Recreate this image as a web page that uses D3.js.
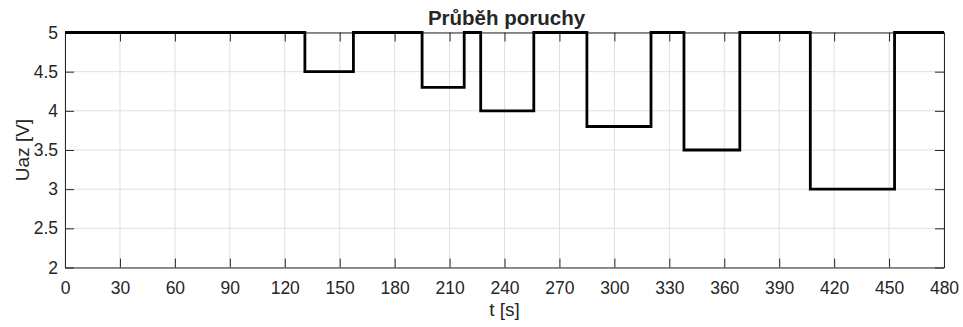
<!DOCTYPE html>
<html>
<head>
<meta charset="utf-8">
<script src="https://cdn.jsdelivr.net/npm/d3@7"></script>
<style>
  body { margin: 0; background: #fff; }
  text { font-family: "Liberation Sans", Arial, Helvetica, sans-serif; fill: #262626; }
  .grid line { stroke: #dfdfdf; stroke-width: 1; }
  .axis path, .axis line { stroke: #262626; }
</style>
</head>
<body>
<div id="chart"></div>
<script>
// step times [s] and voltage levels held from each time onwards
var times  = [0, 131, 157.5, 195, 218, 227, 256, 285, 320, 338, 368.5, 407, 453, 480];
var levels = [5, 4.5, 5,     4.3, 5,   4.0, 5,   3.8, 5,   3.5, 5,     3.0, 5,   5];
var xTicks = [0, 30, 60, 90, 120, 150, 180, 210, 240, 270, 300, 330, 360, 390, 420, 450, 480];
var yTicks = [2, 2.5, 3, 3.5, 4, 4.5, 5];

var W = 963, H = 327;
var margin = {top: 32.5, right: 19, bottom: 59.5, left: 65};
var width = W - margin.left - margin.right,
    height = H - margin.top - margin.bottom;

var svg = d3.select("#chart").append("svg")
    .attr("width", W)
    .attr("height", H);

var plot = svg.append("g")
    .attr("transform", "translate(" + margin.left + "," + margin.top + ")");

var x = d3.scaleLinear().domain([0, 480]).range([0, width]);
var y = d3.scaleLinear().domain([2, 5]).range([height, 0]);

// grid
var grid = plot.append("g").attr("class", "grid");
grid.selectAll(".gx").data(xTicks).enter().append("line")
    .attr("x1", d => x(d)).attr("x2", d => x(d))
    .attr("y1", 0).attr("y2", height);
grid.selectAll(".gy").data(yTicks).enter().append("line")
    .attr("x1", 0).attr("x2", width)
    .attr("y1", d => y(d)).attr("y2", d => y(d));

// axes, ticks pointing inwards like matlab
var tickLen = 9;
var xAxis = plot.append("g").attr("class", "axis")
    .attr("transform", "translate(0," + height + ")")
    .call(d3.axisBottom(x).tickValues(xTicks).tickSizeInner(-tickLen).tickSizeOuter(0).tickPadding(14));
var xTop = plot.append("g").attr("class", "axis")
    .call(d3.axisTop(x).tickValues(xTicks).tickSizeInner(-tickLen).tickSizeOuter(0).tickFormat(""));
var yAxis = plot.append("g").attr("class", "axis")
    .call(d3.axisLeft(y).tickValues(yTicks).tickSizeInner(-tickLen).tickSizeOuter(0).tickPadding(7).tickFormat(d3.format("")));
var yRight = plot.append("g").attr("class", "axis")
    .attr("transform", "translate(" + width + ",0)")
    .call(d3.axisRight(y).tickValues(yTicks).tickSizeInner(-tickLen).tickSizeOuter(0).tickFormat(""));

svg.selectAll(".axis text")
    .style("font-size", "17.5px")
    .style("font-family", '"Liberation Sans", Arial, sans-serif')
    .attr("fill", "#262626");
xAxis.selectAll(".tick text").attr("dy", "0.71em");

// the signal
var pts = times.map((t, i) => [t, levels[i]]);
var line = d3.line()
    .x(d => x(d[0]))
    .y(d => y(d[1]))
    .curve(d3.curveStepAfter);

plot.append("path")
    .datum(pts)
    .attr("d", line)
    .attr("fill", "none")
    .attr("stroke", "#000")
    .attr("stroke-width", 2.8);

// title and labels
svg.append("text")
    .text("Průběh poruchy")
    .attr("x", margin.left + width / 2 + 2)
    .attr("y", 25)
    .attr("text-anchor", "middle")
    .style("font-size", "20.5px")
    .style("font-weight", "bold")
    .attr("fill", "#000");

svg.append("text")
    .text("t [s]")
    .attr("x", margin.left + width / 2)
    .attr("y", 316)
    .attr("text-anchor", "middle")
    .style("font-size", "19px");

svg.append("text")
    .text("Uaz [V]")
    .attr("transform", "translate(29," + (margin.top + height / 2) + ") rotate(-90)")
    .attr("text-anchor", "middle")
    .style("font-size", "19px");
</script>
</body>
</html>
